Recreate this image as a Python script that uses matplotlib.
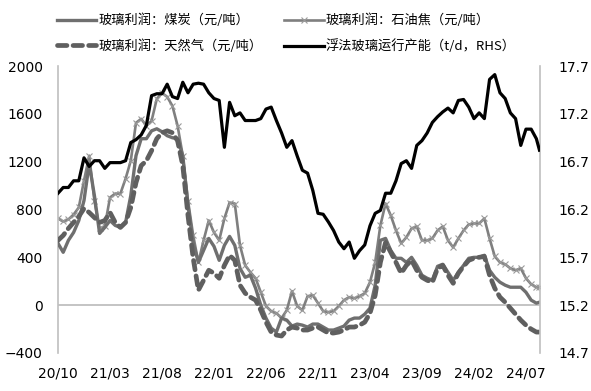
import numpy as np
import matplotlib
matplotlib.use("Agg")
import matplotlib.pyplot as plt

plt.rcParams['font.family'] = ['Noto Sans CJK SC', 'DejaVu Sans']

# x positions: months since 2020-10 (half-month steps)
months = [i * 0.5 for i in range(93)] + [46.3]
tick_months = [0, 5, 10, 15, 20, 25, 30, 35, 40, 45]
tick_labels = ["20/10", "21/03", "21/08", "22/01", "22/06", "22/11", "23/04", "23/09", "24/02", "24/07"]

coal = [517, 442, 542, 608, 708, 875, 1183, 917, 600, 650,
        708, 667, 650, 692, 917, 1250, 1392, 1392, 1458, 1475,
        1450, 1417, 1400, 1392, 1250, 833, 517, 358, 458, 558,
        492, 375, 500, 575, 500, 308, 233, 250, 142, 0,
        -108, -192, -225, -108, -125, -175, -158, -167, -183, -158,
        -158, -183, -208, -208, -192, -175, -125, -108, -108, -75,
        -25, 167, 542, 558, 458, 392, 392, 358, 400, 333,
        250, 225, 208, 325, 342, 275, 208, 275, 333, 392,
        400, 400, 417, 292, 233, 192, 167, 150, 150, 150,
        108, 42, 17, 25]

petcoke = [725, 700, 717, 758, 817, 1042, 1250, 875, 642, 658,
           900, 933, 933, 1058, 1208, 1525, 1558, 1500, 1542, 1725,
           1775, 1742, 1667, 1500, 1250, 875, 583, 358, 542, 708,
           608, 542, 725, 858, 850, 500, 333, 275, 225, 108,
           -8, -50, -67, -108, -42, 117, -8, -42, 75, 83,
           17, -50, -58, -50, -8, 42, 67, 58, 75, 100,
           192, 358, 667, 850, 750, 625, 517, 567, 642, 658,
           542, 542, 558, 625, 658, 542, 483, 558, 625, 675,
           683, 683, 725, 558, 408, 358, 342, 308, 292, 308,
           225, 175, 150, 150]

natgas = [542, 583, 642, 692, 742, 808, 775, 733, 692, 708,
          775, 692, 650, 692, 817, 1025, 1167, 1208, 1292, 1392,
          1442, 1458, 1442, 1375, 1167, 750, 392, 125, 208, 292,
          267, 225, 333, 417, 375, 167, 100, 67, 42, -42,
          -142, -225, -250, -258, -208, -183, -192, -208, -208, -192,
          -183, -208, -233, -233, -225, -208, -183, -183, -167, -142,
          -67, 83, 358, 525, 442, 358, 267, 333, 375, 292,
          233, 208, 192, 308, 333, 250, 183, 267, 325, 375,
          392, 400, 408, 250, 142, 67, 25, -25, -75, -125,
          -167, -200, -225, -225]

capacity = [16.37, 16.43, 16.43, 16.50, 16.50, 16.74, 16.65, 16.71, 16.71, 16.63,
            16.69, 16.69, 16.69, 16.71, 16.90, 16.93, 16.98, 17.08, 17.39, 17.41,
            17.41, 17.51, 17.38, 17.36, 17.53, 17.42, 17.51, 17.52, 17.51, 17.42,
            17.36, 17.34, 16.85, 17.32, 17.18, 17.21, 17.13, 17.13, 17.13, 17.15,
            17.25, 17.27, 17.13, 17.00, 16.85, 16.92, 16.76, 16.61, 16.58, 16.40,
            16.16, 16.15, 16.07, 15.98, 15.86, 15.79, 15.86, 15.69, 15.77, 15.83,
            16.03, 16.16, 16.19, 16.37, 16.37, 16.50, 16.68, 16.71, 16.63, 16.87,
            16.92, 17.00, 17.11, 17.17, 17.22, 17.26, 17.21, 17.34, 17.35, 17.27,
            17.15, 17.21, 17.15, 17.56, 17.61, 17.42, 17.36, 17.21, 17.15, 16.87,
            17.04, 17.04, 16.94, 16.82]

labels = ["玻璃利润：煤炭（元/吨）", "玻璃利润：石油焦（元/吨）",
          "玻璃利润：天然气（元/吨）", "浮法玻璃运行产能（t/d，RHS）"]

fig = plt.figure(figsize=(5.91, 3.91), dpi=100)
ax = fig.add_axes([58/591, 1-353/391, (540-58)/591, (353-66)/391])
ax2 = ax.twinx()

l_coal, = ax.plot(months, coal, color="#6f6f6f", lw=2.4, solid_joinstyle="round", zorder=3)
l_pc, = ax.plot(months, petcoke, color="#7f7f7f", lw=1.9, marker="x", ms=4,
                mew=0.8, mec="#9a9a9a", zorder=2)
l_ng, = ax.plot(months, natgas, color="#5f5f5f", lw=3.4, ls=(0, (2.0, 1.3)),
                dash_capstyle="round", zorder=4)
l_cap, = ax2.plot(months, capacity, color="black", lw=2.3, zorder=5)

ax.set_xlim(0, 46.35)
ax.set_ylim(-400, 2000)
ax.set_yticks(range(-400, 2001, 400))
ax2.set_ylim(14.7, 17.7)
rt = [14.7, 15.2, 15.7, 16.2, 16.7, 17.2, 17.7]
ax2.set_yticks(rt)
ax2.set_yticklabels([f"{v:.1f}" for v in rt])
ax.set_xticks(tick_months)
ax.set_xticklabels(tick_labels)

ax.axhline(0, color="#bfbfbf", lw=1.3, zorder=1)
for a in (ax, ax2):
    for s in ("top", "bottom"):
        a.spines[s].set_visible(False)
    a.spines["left"].set_color("#bfbfbf")
    a.spines["right"].set_color("#bfbfbf")
    a.spines["left"].set_linewidth(1.2)
    a.spines["right"].set_linewidth(1.2)
    a.tick_params(length=0, labelsize=10, colors="black")
    for t in a.get_xticklabels() + a.get_yticklabels():
        t.set_fontfamily("DejaVu Sans")
ax.spines["right"].set_visible(False)
ax2.spines["left"].set_visible(False)
ax.tick_params(axis="y", pad=11)
ax2.tick_params(axis="y", pad=13)
ax.tick_params(axis="x", pad=10)

ax.patch.set_visible(False)
ax2.patch.set_visible(False)

fig.legend([l_coal, l_ng, l_pc, l_cap], [labels[0], labels[2], labels[1], labels[3]],
           ncol=2, loc="upper left", bbox_to_anchor=(45/591, 0.995), frameon=False,
           fontsize=9.5, handlelength=3.0, handletextpad=0.15, columnspacing=1.65,
           labelspacing=0.9)

fig.savefig("out.png", dpi=100)
